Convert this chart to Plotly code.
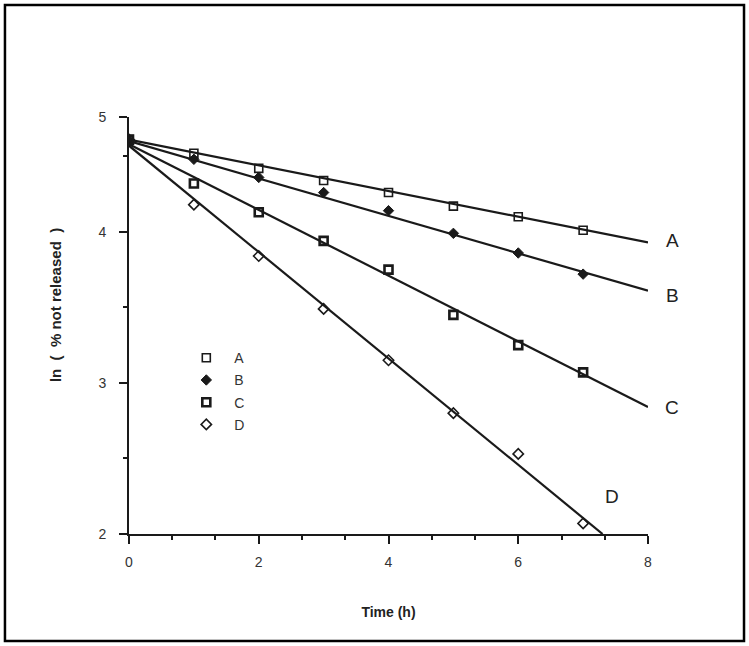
import plotly.graph_objects as go

# ---- data ----
time_h = [0, 1, 2, 3, 4, 5, 6, 7]
series_names = ["A", "B", "C", "D"]
a_vals = [4.61, 4.52, 4.42, 4.34, 4.26, 4.17, 4.10, 4.01]
b_vals = [4.60, 4.48, 4.36, 4.26, 4.14, 3.99, 3.86, 3.72]
c_vals = [4.61, 4.32, 4.13, 3.94, 3.75, 3.45, 3.25, 3.07]
d_vals = [4.61, 4.18, 3.84, 3.49, 3.15, 2.80, 2.53, 2.07]

# fitted lines (start / end points)
fit_a_x = [0, 8]
fit_a_y = [4.61, 3.93]
fit_b_x = [0, 8]
fit_b_y = [4.60, 3.61]
fit_c_x = [0, 8]
fit_c_y = [4.58, 2.84]
fit_d_x = [0, 7.30]
fit_d_y = [4.57, 2.00]

# axis ticks
x_tick_vals = [0, 2, 4, 6, 8]
x_tick_text = ["0", "2", "4", "6", "8"]
x_minor_vals = [0.667, 1.333, 2.667, 3.333, 4.667, 5.333, 6.667, 7.333]
y_tick_vals = [2, 3, 4, 4.76]
y_tick_text = ["2", "3", "4", "5"]
y_minor_vals = [2.5, 3.5, 4.5]

X_RANGE = [0, 8]
Y_RANGE = [2, 4.76]

INK = "#1a1a1a"
FONT = "Liberation Sans, Arial, sans-serif"

fig = go.Figure()

marker_styles = {
    "A": dict(symbol="square-open", size=8, line=dict(width=1.6, color=INK), color=INK),
    "B": dict(symbol="diamond", size=8, line=dict(width=1, color=INK), color=INK),
    "C": dict(symbol="square-open", size=8, line=dict(width=2.6, color=INK), color=INK),
    "D": dict(symbol="diamond-open", size=8, line=dict(width=1.6, color=INK), color=INK),
}
vals = {"A": a_vals, "B": b_vals, "C": c_vals, "D": d_vals}
fits = {"A": (fit_a_x, fit_a_y), "B": (fit_b_x, fit_b_y),
        "C": (fit_c_x, fit_c_y), "D": (fit_d_x, fit_d_y)}

for name in series_names:
    fx, fy = fits[name]
    fig.add_trace(go.Scatter(x=fx, y=fy, mode="lines",
                             line=dict(color=INK, width=2.2),
                             showlegend=False, hoverinfo="skip"))
for name in series_names:
    fig.add_trace(go.Scatter(x=time_h, y=vals[name], mode="markers",
                             name=name, legendgroup=name,
                             marker=marker_styles[name]))

# curve labels (placed in paper coords so they can sit outside the axis range)
label_pos = {"A": (8.37, 3.94), "B": (8.37, 3.58), "C": (8.37, 2.84), "D": (7.44, 2.25)}
for name in series_names:
    lx, ly = label_pos[name]
    px = (lx - X_RANGE[0]) / (X_RANGE[1] - X_RANGE[0])
    py = (ly - Y_RANGE[0]) / (Y_RANGE[1] - Y_RANGE[0])
    fig.add_annotation(xref="paper", yref="paper", x=px, y=py, text=name,
                       xanchor="center", yanchor="middle", showarrow=False,
                       font=dict(family=FONT, size=19, color="#222"))

# y-axis title (sits slightly above the plot centre in the reference)
fig.add_annotation(xref="paper", yref="paper", x=-0.1426, y=0.549,
                   text="<b>ln  (  % not released  )</b>", textangle=-90,
                   xanchor="center", yanchor="middle", showarrow=False,
                   font=dict(family=FONT, size=15, color="#222"))

fig.update_layout(
    width=749, height=646,
    margin=dict(l=129, r=101, t=117, b=112, autoexpand=False),
    paper_bgcolor="white", plot_bgcolor="rgba(0,0,0,0)",
    font=dict(family=FONT, color="#333", size=13),
    showlegend=True,
    legend=dict(x=0.095, y=0.46, xanchor="left", yanchor="top",
                bgcolor="rgba(0,0,0,0)", tracegroupgap=1,
                font=dict(family=FONT, size=14, color="#333"),
                itemwidth=46),
    shapes=[dict(type="rect", xref="paper", yref="paper",
                 x0=-0.239, x1=1.185, y0=-0.2566, y1=1.2686,
                 line=dict(color="black", width=2.5), layer="below")],
)

fig.update_xaxes(
    range=X_RANGE, showgrid=False, zeroline=False, automargin=False,
    showline=True, linecolor=INK, linewidth=2,
    ticks="outside", ticklen=8, tickwidth=2, tickcolor=INK,
    tickmode="array", tickvals=x_tick_vals, ticktext=x_tick_text,
    tickfont=dict(family=FONT, size=14, color="#333"),
    ticklabelstandoff=6,
    minor=dict(tickmode="array", tickvals=x_minor_vals, ticks="outside",
               ticklen=4, tickwidth=2, tickcolor=INK),
    title=dict(text="<b>Time (h)</b>", font=dict(family=FONT, size=14, color="#222"),
               standoff=38),
)
fig.update_yaxes(
    range=Y_RANGE, showgrid=False, zeroline=False, automargin=False,
    showline=True, linecolor=INK, linewidth=2,
    ticks="outside", ticklen=8, tickwidth=1.5, tickcolor=INK,
    tickmode="array", tickvals=y_tick_vals, ticktext=y_tick_text,
    tickfont=dict(family=FONT, size=14, color="#333"),
    ticklabelstandoff=10,
    minor=dict(tickmode="array", tickvals=y_minor_vals, ticks="outside",
               ticklen=4, tickwidth=1.5, tickcolor=INK),
)

fig.write_html("out.html", config={"displayModeBar": False},
               post_script="document.body.style.margin='0';")
